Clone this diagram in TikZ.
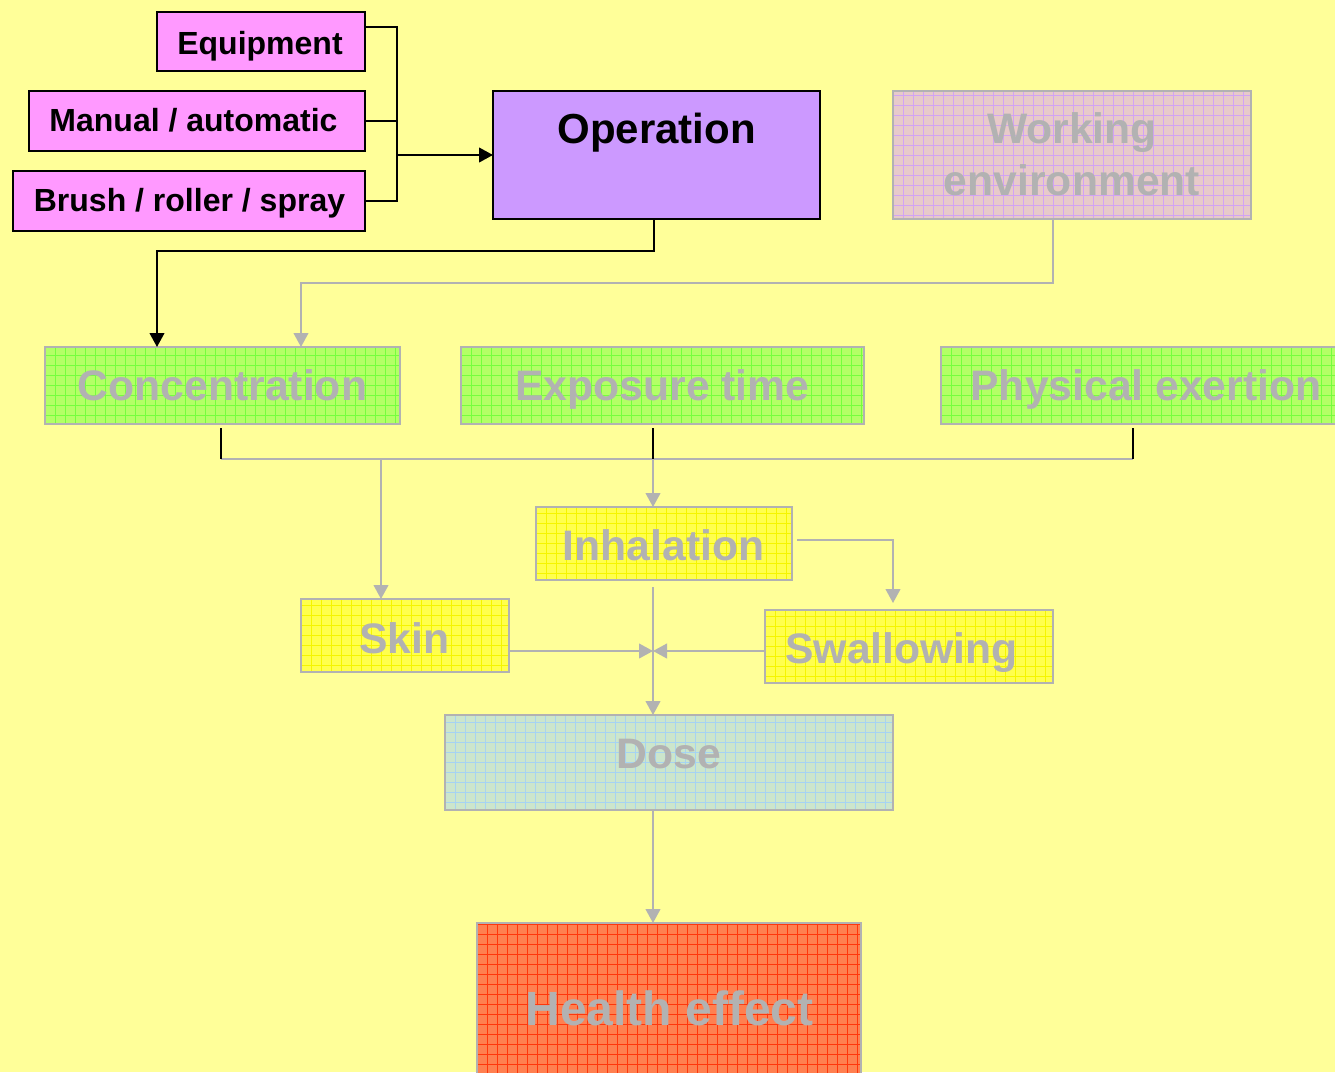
\documentclass[tikz,border=0pt]{standalone}
\usepackage{fontspec}
\setmainfont{Liberation Sans}
\usetikzlibrary{arrows.meta,calc,fit}

\definecolor{paper}{HTML}{FFFF99}
\definecolor{pinkbox}{HTML}{FF99FF}
\definecolor{lilac}{HTML}{CC99FF}
\definecolor{rosefill}{HTML}{E8CACA}
\definecolor{greenfill}{HTML}{B3FF66}
\definecolor{greengrid}{HTML}{66FF33}
\definecolor{yellowfill}{HTML}{FFFF4D}
\definecolor{yellowgrid}{HTML}{F5F500}
\definecolor{dosefill}{HTML}{CCE6CC}
\definecolor{dosegrid}{HTML}{99CCFF}
\definecolor{healthfill}{HTML}{FF8050}
\definecolor{healthgrid}{HTML}{FF2A00}
\definecolor{mute}{HTML}{B2B2B2}

\begin{document}
\begin{tikzpicture}[x=0.75pt,y=-0.75pt,
  plainbox/.style={inner sep=0pt, outer sep=0pt, draw=black, line width=1.5pt},
  softbox/.style={inner sep=0pt, outer sep=0pt, draw=mute, line width=1.5pt},
  gridded/.style={path picture={
      \draw[#1, line width=0.5pt]
        (path picture bounding box.south west) grid[step=7.5pt]
        (path picture bounding box.north east);}},
  darktext/.style={anchor=base, inner sep=0pt, text=black,
      font=\fontsize{24}{28}\selectfont\bfseries},
  softtext/.style={anchor=base, inner sep=0pt, text=mute,
      font=\fontsize{32}{38}\selectfont\bfseries},
  blackline/.style={draw=black, line width=1.5pt},
  greyline/.style={draw=mute, line width=1.5pt},
  blackarrow/.style={blackline, -{Triangle[length=10.5pt,width=11pt]}},
  greyarrow/.style={greyline, -{Triangle[length=10.5pt,width=11pt]}},
]
% page
\fill[paper] (0,0) rectangle (1335,1072);
\useasboundingbox (0,0) rectangle (1335,1072);

% coordinates of the box corners
\coordinate (eq1) at (157,12);   \coordinate (eq2) at (365,71);
\coordinate (ma1) at (29,91);    \coordinate (ma2) at (365,151);
\coordinate (br1) at (13,171);   \coordinate (br2) at (365,231);
\coordinate (op1) at (493,91);   \coordinate (op2) at (820,219);
\coordinate (wo1) at (893,91);   \coordinate (wo2) at (1251,219);
\coordinate (co1) at (45,347);   \coordinate (co2) at (400,424);
\coordinate (ex1) at (461,347);  \coordinate (ex2) at (864,424);
\coordinate (ph1) at (941,347);  \coordinate (ph2) at (1350,424);
\coordinate (in1) at (536,507);  \coordinate (in2) at (792,580);
\coordinate (sk1) at (301,599);  \coordinate (sk2) at (509,672);
\coordinate (sw1) at (765,610);  \coordinate (sw2) at (1053,683);
\coordinate (do1) at (445,715);  \coordinate (do2) at (893,810);
\coordinate (he1) at (477,923);  \coordinate (he2) at (861,1085);

% method boxes
\node[plainbox, fill=pinkbox, fit=(eq1)(eq2)] (equip) {};
\node[plainbox, fill=pinkbox, fit=(ma1)(ma2)] (manual) {};
\node[plainbox, fill=pinkbox, fit=(br1)(br2)] (brush) {};
\node[plainbox, fill=lilac, fit=(op1)(op2)] (oper) {};

% factor boxes
\node[softbox, fill=rosefill, gridded=lilac!80!rosefill, fit=(wo1)(wo2)] (work) {};
\node[softbox, fill=greenfill, gridded=greengrid!80!greenfill, fit=(co1)(co2)] (conc) {};
\node[softbox, fill=greenfill, gridded=greengrid!80!greenfill, fit=(ex1)(ex2)] (expo) {};
\node[softbox, fill=greenfill, gridded=greengrid!80!greenfill, fit=(ph1)(ph2)] (phys) {};
\node[softbox, fill=yellowfill, gridded=yellowgrid, fit=(in1)(in2)] (inhal) {};
\node[softbox, fill=yellowfill, gridded=yellowgrid, fit=(sk1)(sk2)] (skin) {};
\node[softbox, fill=yellowfill, gridded=yellowgrid, fit=(sw1)(sw2)] (swal) {};
\node[softbox, fill=dosefill, gridded=dosegrid!75!dosefill, fit=(do1)(do2)] (dose) {};
\node[softbox, fill=healthfill, gridded=healthgrid!85!healthfill, fit=(he1)(he2)] (health) {};

% labels
\node[darktext] (tequip) at (260,54) {Equipment};
\node[darktext] (tmanual) at (193.5,131) {Manual / automatic};
\node[darktext] (tbrush) at (189.5,211) {Brush / roller / spray};
\node[darktext, font=\fontsize{31.5}{38}\selectfont\bfseries] (toper) at (656.5,143) {Operation};
\node[softtext] (twork1) at (1072,143) {Working};
\node[softtext] (twork2) at (1072,195) {environment};
\node[softtext] (tconc) at (222.5,400) {Concentration};
\node[softtext] (texpo) at (662.5,400) {Exposure time};
\node[softtext] (tphys) at (1146,400) {Physical exertion};
\node[softtext] (tinhal) at (663.5,560) {Inhalation};
\node[softtext] (tskin) at (404.5,653) {Skin};
\node[softtext] (tswal) at (901.5,663) {Swallowing};
\node[softtext] (tdose) at (669,768) {Dose};
\node[softtext, font=\fontsize{36}{42}\selectfont\bfseries] (thealth) at (669.5,1025) {Health effect};

% junctions
\coordinate (mbus) at (397,155);
\coordinate (fbus) at (653,459);
\coordinate (meet) at (653,651);

% methods into the operation
\draw[blackline] ($(equip.north east)!0.25!(equip.south east)$) -| (mbus |- brush.east) -- (brush.east);
\draw[blackline] (manual.east) -- (mbus |- manual.east);
\draw[blackarrow] (mbus) -- (oper.west);

% operation and environment into the concentration
\draw[blackarrow] ($(oper.south)+(-3,0)$) |- (157,251) -- ($(conc.north west)+(112,0)$);
\draw[greyarrow] ($(work.south)+(-19,0)$) |- (301,283) -- ($(conc.north west)+(256,0)$);

% factors into the routes
\draw[greyline] ($(conc.south)+(-1.5,35)$) -- ($(phys.south)+(-12.5,35)$);
\draw[blackline] ($(conc.south)+(-1.5,4)$) -- ++(0,31);
\draw[blackline] ($(expo.south)+(-9.5,4)$) -- ++(0,31);
\draw[blackline] ($(phys.south)+(-12.5,4)$) -- ++(0,31);
\draw[greyarrow] (381,459) -- ($(skin.north west)+(80,0)$);
\draw[greyarrow] (fbus) -- (inhal.north -| fbus);
\draw[greyarrow] ($(inhal.east)+(5,-3.5)$) -| ($(swal.north west)+(128,-7)$);

% routes into the dose
\draw[greyline] ($(inhal.south -| meet)+(0,7)$) -- (meet);
\draw[greyarrow] (skin.east |- meet) -- (meet);
\draw[greyarrow] (swal.west |- meet) -- (meet);
\draw[greyarrow] (meet) -- (dose.north -| meet);
\draw[greyarrow] (dose.south -| meet) -- (health.north -| meet);
\end{tikzpicture}
\end{document}
